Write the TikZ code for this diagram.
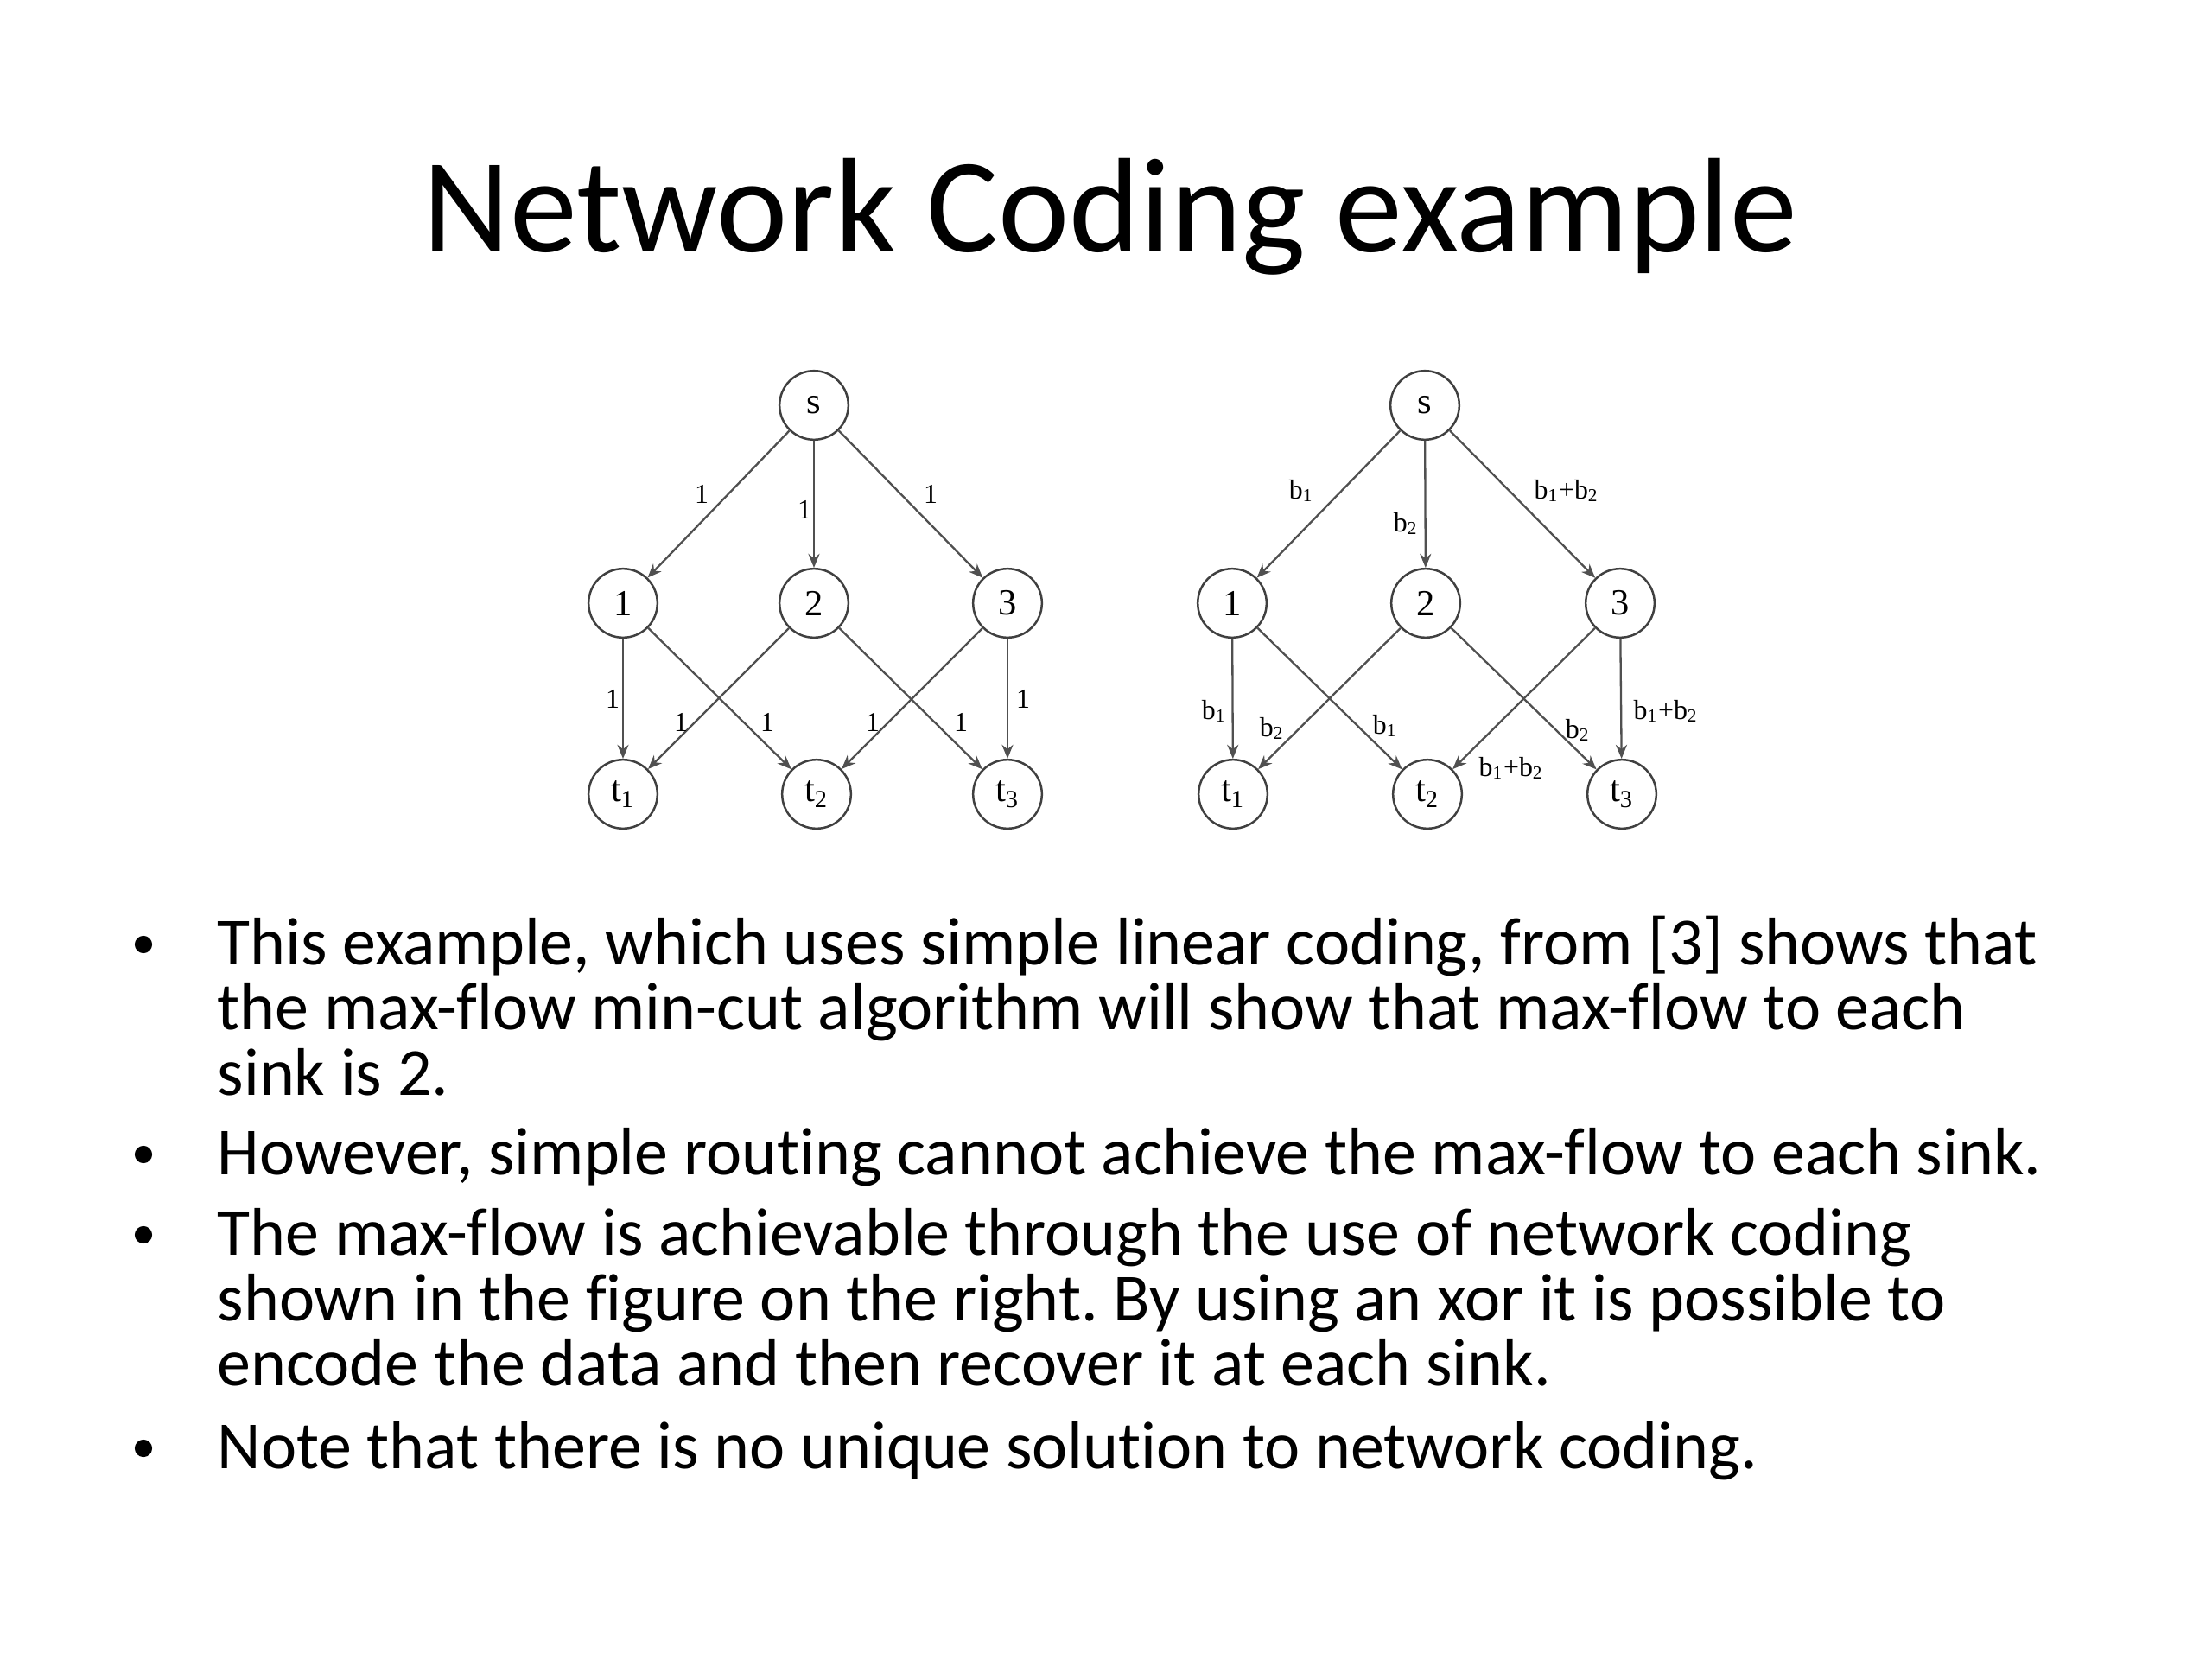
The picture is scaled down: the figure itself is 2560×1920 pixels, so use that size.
\documentclass[tikz,border=0pt]{standalone}
\usepackage{fontspec}
\setmainfont{Carlito}[Ligatures=CommonOff]
\newfontfamily\lblfont{Liberation Serif}
\usetikzlibrary{arrows.meta}
\definecolor{edgegray}{HTML}{505050}
\definecolor{circgray}{HTML}{404040}
\newcommand{\sbs}[1]{\textsubscript{#1}}
\frenchspacing
\tikzset{
  x=0.009921875cm, y=-0.009921875cm,
  vtx/.style={circle, draw=circgray, line width=0.7pt, minimum size=0.79cm, inner sep=0pt, font=\lblfont\fontsize{12}{14}\selectfont},
  arc/.style={draw=edgegray, line width=0.65pt, -{Stealth[length=1.6mm,width=1.3mm]}},
  elbl/.style={inner sep=0pt, font=\lblfont\fontsize{9}{11}\selectfont},
  title/.style={anchor=base, inner sep=0pt, font=\fontsize{44}{52}\selectfont},
  bodyline/.style={anchor=base west, inner sep=0pt, font=\fontsize{22}{26}\selectfont},
  bulletdot/.style={circle, fill=black, inner sep=0pt, minimum size=0.2cm}
}
\begin{document}
\begin{tikzpicture}
\useasboundingbox[fill=white] (0,0) rectangle (2560,1920);
\node[title] (ttl) at (1285,292) {Network Coding example};
% left graph
\node[vtx] (Ls) at (942,469) {s};
\node[vtx] (L1) at (721,698) {1};
\node[vtx] (L2) at (942,698) {2};
\node[vtx] (L3) at (1166,698) {3};
\node[vtx] (Lt1) at (721,919) {t\sbs{1}};
\node[vtx] (Lt2) at (945,919) {t\sbs{2}};
\node[vtx] (Lt3) at (1166,919) {t\sbs{3}};
\draw[arc] (Ls) -- (L1);
\draw[arc] (Ls) -- (L2);
\draw[arc] (Ls) -- (L3);
\draw[arc] (L1) -- (Lt1);
\draw[arc] (L1) -- (Lt2);
\draw[arc] (L2) -- (Lt1);
\draw[arc] (L2) -- (Lt3);
\draw[arc] (L3) -- (Lt2);
\draw[arc] (L3) -- (Lt3);
\node[elbl] (la) at (812,572) {1};
\node[elbl] (lb) at (931,590) {1};
\node[elbl] (lc) at (1077,572) {1};
\node[elbl] (ld) at (709,809) {1};
\node[elbl] (le) at (788,836) {1};
\node[elbl] (lf) at (888,836) {1};
\node[elbl] (lg) at (1010,836) {1};
\node[elbl] (lh) at (1112,836) {1};
\node[elbl] (li) at (1184,809) {1};
% right graph
\node[vtx] (Rs) at (1649,469) {s};
\node[vtx] (R1) at (1426,698) {1};
\node[vtx] (R2) at (1650,698) {2};
\node[vtx] (R3) at (1875,698) {3};
\node[vtx] (Rt1) at (1427,919) {t\sbs{1}};
\node[vtx] (Rt2) at (1652,919) {t\sbs{2}};
\node[vtx] (Rt3) at (1877,919) {t\sbs{3}};
\draw[arc] (Rs) -- (R1);
\draw[arc] (Rs) -- (R2);
\draw[arc] (Rs) -- (R3);
\draw[arc] (R1) -- (Rt1);
\draw[arc] (R1) -- (Rt2);
\draw[arc] (R2) -- (Rt1);
\draw[arc] (R2) -- (Rt3);
\draw[arc] (R3) -- (Rt2);
\draw[arc] (R3) -- (Rt3);
\node[elbl] (ra) at (1506,568) {b\sbs{1}};
\node[elbl] (rb) at (1627,606) {b\sbs{2}};
\node[elbl] (rc) at (1813,568) {b\sbs{1}+b\sbs{2}};
\node[elbl] (rd) at (1405,823) {b\sbs{1}};
\node[elbl] (re) at (1472,843) {b\sbs{2}};
\node[elbl] (rf) at (1603,840) {b\sbs{1}};
\node[elbl] (rg) at (1826,845) {b\sbs{2}};
\node[elbl] (rh) at (1749,889) {b\sbs{1}+b\sbs{2}};
\node[elbl] (ri) at (1928,823) {b\sbs{1}+b\sbs{2}};
% bullets
\node[bulletdot] (d1) at (166,1093) {};
\node[bulletdot] (d2) at (166,1336) {};
\node[bulletdot] (d3) at (166,1429) {};
\node[bulletdot] (d4) at (166,1676) {};
\node[bodyline] (t1) at (251,1116) {This example, which uses simple linear coding, from [3] shows that};
\node[bodyline] (t2) at (251,1191) {the max-flow min-cut algorithm will show that max-flow to each};
\node[bodyline] (t3) at (251,1267) {sink is 2.};
\node[bodyline] (t4) at (251,1359) {However, simple routing cannot achieve the max-flow to each sink.};
\node[bodyline] (t5) at (251,1452) {The max-flow is achievable through the use of network coding};
\node[bodyline] (t6) at (251,1528) {shown in the figure on the right. By using an xor it is possible to};
\node[bodyline] (t7) at (251,1603) {encode the data and then recover it at each sink.};
\node[bodyline] (t8) at (251,1699) {Note that there is no unique solution to network coding.};
\end{tikzpicture}
\end{document}
